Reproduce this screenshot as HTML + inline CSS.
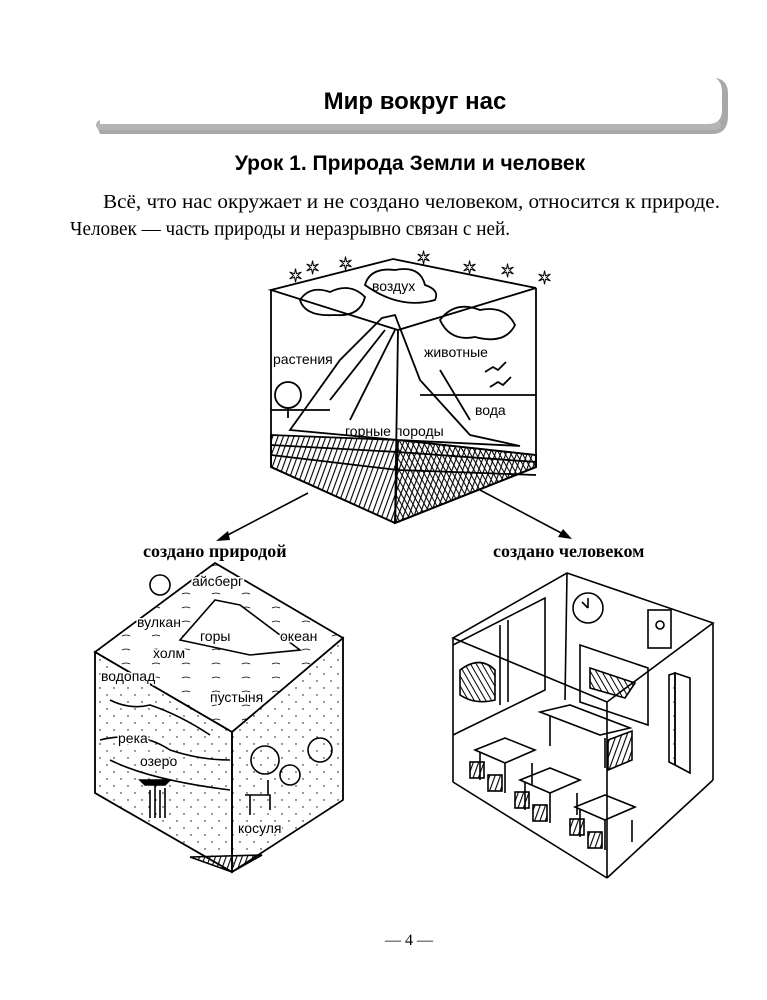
<!DOCTYPE html>
<html><head><meta charset="utf-8"><style>
body{margin:0;background:#fff;}
svg{display:block}
</style></head><body>
<svg width="767" height="1000" viewBox="0 0 767 1000" xmlns="http://www.w3.org/2000/svg" font-family="Liberation Sans, sans-serif">
<defs>
<pattern id="h1" width="5" height="5" patternUnits="userSpaceOnUse" patternTransform="rotate(20)"><line x1="0" y1="0" x2="0" y2="5" stroke="#000" stroke-width="2.2"/></pattern>
<pattern id="h2" width="5" height="5" patternUnits="userSpaceOnUse" patternTransform="rotate(-30)"><line x1="0" y1="0" x2="0" y2="5" stroke="#000" stroke-width="2"/></pattern>
<pattern id="dots" width="14" height="14" patternUnits="userSpaceOnUse"><circle cx="2" cy="2" r="0.7" fill="#000"/><circle cx="9" cy="9" r="0.7" fill="#000"/></pattern>
<pattern id="wv" width="30" height="14" patternUnits="userSpaceOnUse"><path d="M2 6 q4 -2 8 0" stroke="#000" fill="none" stroke-width="0.8"/></pattern>
</defs>
<!-- header banner -->
<path d="M96 124 L100 134 L712 134 Q728 134 728 116 L728 94 Q728 80 716 78 L716 122 Z" fill="#a8a8a8"/>
<rect x="96" y="120" width="625" height="10" rx="5" fill="#b5b5b5"/>
<path d="M100 76 L706 76 Q722 76 722 92 L722 110 Q722 124 708 124 L100 124 Z" fill="#fff"/>
<text x="415" y="109" font-size="24" font-weight="bold" text-anchor="middle">Мир вокруг нас</text>
<text x="410" y="170" font-size="21" font-weight="bold" text-anchor="middle">Урок 1. Природа Земли и человек</text>
<text font-family="Liberation Serif, serif" font-size="19.5"><tspan x="103" y="208" textLength="617" lengthAdjust="spacingAndGlyphs">Всё, что нас окружает и не создано человеком, относится к природе.</tspan><tspan x="70" y="235" textLength="440" lengthAdjust="spacingAndGlyphs">Человек — часть природы и неразрывно связан с ней.</tspan></text>

<!-- top cube -->
<g stroke="#000" stroke-width="1.8" fill="none">
<polygon points="271,435 398,440 536,455 536,467 395,523 271,467" fill="url(#h1)"/>
<polygon points="398,440 536,455 536,467 395,523" fill="url(#h2)"/>
<path d="M271 445 L398 452 L536 462 M271 455 L398 470 L536 475"/>
<polygon points="290,430 340,360 382,318 395,315 420,380 470,435 520,446 398,440" fill="#fff"/>
<path d="M330 400 L385 330 M350 420 L395 330 M440 370 L470 420"/>
<path d="M271 410 L330 410 M420 395 L536 395"/>
<circle cx="288" cy="395" r="13"/><path d="M288 408 V418"/>
<path d="M300 300 q10 -15 30 -8 q20 -10 35 5 q-5 20 -30 18 q-30 2 -35 -15z"/>
<path d="M440 320 q15 -20 40 -10 q25 -5 35 15 q-10 20 -40 12 q-25 5 -35 -17z"/>
<path d="M365 285 q5 -18 30 -15 q25 -5 30 15 q15 5 10 15 q-35 10 -70 -15z" fill="#fff"/>
<path d="M485 372 l8 -5 l5 3 l8 -8 M490 387 l8 -5 l5 3 l8 -8"/>
<polygon points="393,259 536,288 398,330 271,290"/>
<line x1="271" y1="290" x2="271" y2="467"/><line x1="536" y1="288" x2="536" y2="467"/>
<line x1="398" y1="330" x2="395" y2="523"/>
<line x1="271" y1="467" x2="395" y2="523"/><line x1="536" y1="467" x2="395" y2="523"/>
</g>
<g font-size="14">
<text x="372" y="291">воздух</text><text x="273" y="364">растения</text><text x="424" y="357">животные</text><text x="475" y="415">вода</text><text x="345" y="436">горные породы</text>
</g>
<g fill="#fff" stroke="#000" stroke-width="1" font-family="DejaVu Sans, sans-serif" font-size="18">
<text x="288" y="282">✶</text><text x="305" y="274">✶</text><text x="338" y="270">✶</text><text x="416" y="264">✶</text><text x="462" y="274">✶</text><text x="500" y="277">✶</text><text x="537" y="284">✶</text>
</g>
<!-- arrows -->
<g stroke="#000" stroke-width="1.6">
<line x1="308" y1="493" x2="222" y2="538"/><line x1="480" y1="490" x2="565" y2="535"/>
</g>
<polygon points="216,541 228,531 230,540" fill="#000"/><polygon points="572,539 558,537 563,529" fill="#000"/>
<g font-family="Liberation Serif, serif" font-weight="bold" font-size="18"><text x="143" y="557">создано природой</text><text x="493" y="557">создано человеком</text></g>

<!-- nature cube -->
<g stroke="#000" stroke-width="1.6" fill="none">
<polygon points="95,652 232,732 232,872 95,793" fill="url(#dots)"/>
<polygon points="232,732 343,638 343,800 232,872" fill="url(#dots)"/>
<polygon points="215,563 343,638 232,732 95,652" fill="url(#wv)"/>
<polygon points="180,640 215,600 240,605 300,650 250,655" fill="#fff"/>
<path d="M110 700 q20 10 40 5 q30 10 60 30 M100 740 q40 -10 70 10 q30 10 60 10 M110 760 q40 20 120 30"/>
<circle cx="160" cy="585" r="10"/><circle cx="265" cy="760" r="14"/><circle cx="320" cy="750" r="12"/><circle cx="290" cy="775" r="10"/>
<path d="M150 818 V790 M155 818 V785 M160 818 V790 M165 818 V788"/>
<path d="M140 780 h30 l-5 5 h-20z" fill="#000"/>
<path d="M245 795 h25 v15 M250 795 v20 M268 780 v15"/>
<polygon points="215,563 343,638 232,732 95,652"/>
<line x1="95" y1="652" x2="95" y2="793"/><line x1="343" y1="638" x2="343" y2="800"/>
<line x1="232" y1="732" x2="232" y2="872"/><line x1="95" y1="793" x2="232" y2="872"/><line x1="343" y1="800" x2="232" y2="872"/>
<polygon points="190,857 232,872 262,855" fill="url(#h1)"/>
</g>
<g font-size="14" fill="#000" stroke="#fff" stroke-width="3" paint-order="stroke">
<text x="192" y="586">айсберг</text><text x="137" y="627">вулкан</text><text x="200" y="641">горы</text><text x="280" y="641">океан</text><text x="153" y="658">холм</text><text x="101" y="681">водопад</text><text x="210" y="702">пустыня</text><text x="118" y="743">река</text><text x="140" y="766">озеро</text><text x="238" y="833">косуля</text>
</g>

<!-- room cube -->
<g stroke="#000" stroke-width="1.6" fill="none">
<polygon points="453,638 567,573 713,623 607,702"/>
<line x1="453" y1="638" x2="453" y2="782"/><line x1="713" y1="623" x2="713" y2="780"/>
<line x1="607" y1="702" x2="607" y2="878"/><line x1="453" y1="782" x2="607" y2="878"/><line x1="713" y1="780" x2="607" y2="878"/>
<line x1="567" y1="573" x2="565" y2="700"/>
<path d="M453 645 L545 598 L545 690 L453 735"/><path d="M500 625 V705 M508 620 V702"/>
<path d="M460 670 q20 -15 35 0 v30 q-20 5 -35 -5z" fill="url(#h2)"/>
<circle cx="588" cy="608" r="15"/><path d="M588 608 l-6 -6 M588 608 v-10"/>
<rect x="648" y="610" width="23" height="38"/><circle cx="660" cy="625" r="4"/>
<polygon points="580,645 648,668 648,725 580,702"/>
<path d="M590 668 l45 15 l-10 15 l-35 -10z" fill="url(#h2)"/>
<polygon points="675,673 690,678 690,773 675,765"/><polygon points="669,675 675,673 675,765 669,762" fill="url(#dots)"/>
<path d="M540 712 L600 735 L630 728 L570 705z M550 716 v30 M605 738 v30"/>
<polygon points="608,740 632,731 632,760 608,770" fill="url(#h1)"/>
<g id="desk"><path d="M475 750 l30 -12 l30 12 l-30 13z M480 752 v28 M505 763 v30 M532 763 v22"/><rect x="470" y="762" width="14" height="16" fill="url(#h1)"/><rect x="488" y="775" width="14" height="16" fill="url(#h1)"/></g>
<use href="#desk" x="45" y="30"/><use href="#desk" x="100" y="57"/>
</g>
<text x="385" y="945" font-family="Liberation Serif, serif" font-size="16">— 4 —</text>
</svg>
</body></html>
